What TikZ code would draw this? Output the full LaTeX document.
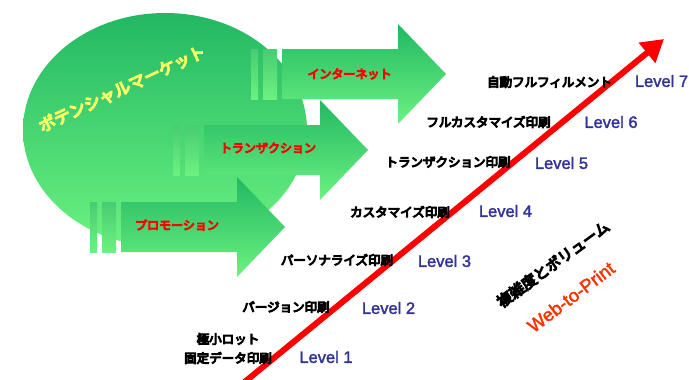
\documentclass[tikz,border=0pt]{standalone}
\usepackage{fontspec}
\setmainfont{Liberation Sans}
\newfontfamily\jpb{Noto Sans CJK JP}[FakeBold=8]
\newfontfamily\lvf{Liberation Sans}[FakeBold=2]
\usetikzlibrary{arrows.meta}
\definecolor{gD}{RGB}{34,184,99}
\definecolor{gL}{RGB}{108,242,128}
\definecolor{gM}{RGB}{72,204,114}
\definecolor{lvl}{RGB}{51,51,153}
\definecolor{wtp}{RGB}{255,51,0}
\definecolor{ylw}{RGB}{255,255,102}
\tikzset{
  jlabel/.style={font=\jpb\fontsize{12.5}{13}\selectfont, inner sep=0pt, text=black},
  lvlabel/.style={font=\lvf\fontsize{16.5}{17}\selectfont, inner sep=0pt, text=lvl},
  arrlabel/.style={font=\jpb\fontsize{12}{13}\selectfont, inner sep=0pt, text=red},
  stripe/.style={top color=gM, bottom color=gL, draw=none},
  arrowbody/.style={top color=gD, bottom color=gL, draw=none},
  blockarr/.pic={
    \path[stripe] (0,-25) rectangle (7,25);
    \path[stripe] (12,-25) rectangle (26,25);
    \path[arrowbody] (31,-25) -- (147,-25) -- (147,-50) -- (195,0) -- (147,50) -- (147,25) -- (31,25) -- cycle;
  }
}
\begin{document}
\begin{tikzpicture}[x=1pt,y=-1pt]
\clip (0,0) rectangle (689,380);
\fill[white] (0,0) rectangle (689,380);
% potential market ellipse
\path[top color=gD, bottom color=gL] (165,130) ellipse [x radius=142pt, y radius=117pt];
\node[font=\jpb\fontsize{16.5}{17}\selectfont, text=ylw, inner sep=0pt, rotate=25] (pm) at (122,88.5) {ポテンシャルマーケット};
% block arrows
\pic (a1) at (251,74) {blockarr};
\pic (a2) at (173,150) {blockarr};
\pic (a3) at (90,227) {blockarr};
\node[arrlabel] (l1) at (349.5,74) {インターネット};
\node[arrlabel] (l2) at (268,148) {トランザクション};
\node[arrlabel] (l3) at (177,225) {プロモーション};
% growth arrow
\coordinate (ls) at (235.4,389.5);
\coordinate (lt) at (664,39);
\draw[red, line width=6pt, -{Triangle[length=22pt,width=25pt]}] (ls) -- (lt);
% level labels
\node[jlabel] (j7) at (549.5,82) {自動フルフィルメント};
\node[jlabel] (j6) at (488.5,122) {フルカスタマイズ印刷};
\node[jlabel] (j5) at (448,162) {トランザクション印刷};
\node[jlabel] (j4) at (400,212) {カスタマイズ印刷};
\node[jlabel] (j3) at (337,260) {パーソナライズ印刷};
\node[jlabel] (j2) at (286,307) {バージョン印刷};
\node[jlabel] (j1a) at (228,339) {極小ロット};
\node[jlabel] (j1b) at (228,358) {固定データ印刷};
\node[lvlabel] (v7) at (661.5,81) {Level 7};
\node[lvlabel] (v6) at (611,122) {Level 6};
\node[lvlabel] (v5) at (561.5,163) {Level 5};
\node[lvlabel] (v4) at (505.5,211) {Level 4};
\node[lvlabel] (v3) at (444.5,261) {Level 3};
\node[lvlabel] (v2) at (388.5,308) {Level 2};
\node[lvlabel] (v1) at (326,357) {Level 1};
% axis captions
\node[font=\jpb\fontsize{15}{16}\selectfont, inner sep=0pt, rotate=36] (cv) at (553,264) {複雑度とボリューム};
\node[font=\lvf\fontsize{18.5}{19}\selectfont, text=wtp, inner sep=0pt, rotate=37] (wp) at (571,297) {Web-to-Print};
\end{tikzpicture}
\end{document}
